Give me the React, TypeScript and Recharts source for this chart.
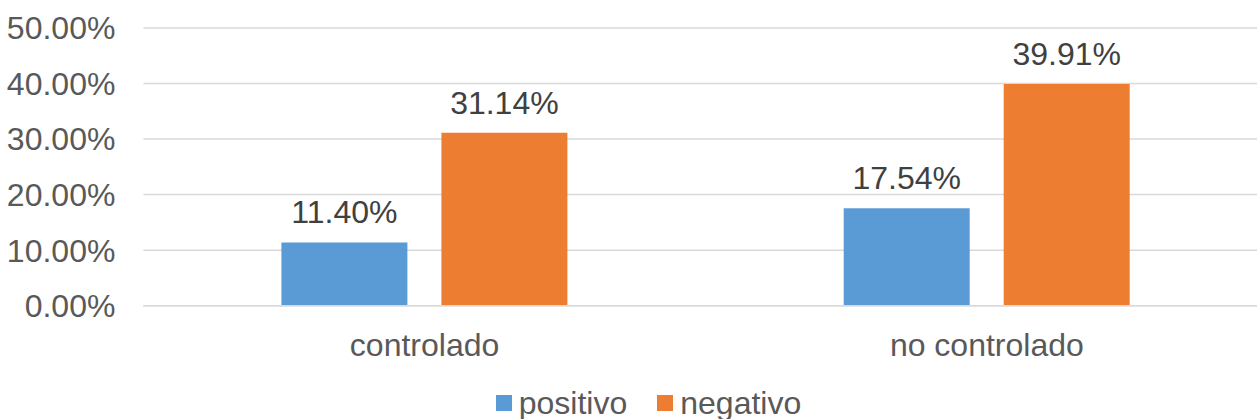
import React from 'react';
import { BarChart, Bar, XAxis, YAxis, CartesianGrid, LabelList, Legend } from 'recharts';

const categories = ['controlado', 'no controlado'];
const positivo = [11.4, 17.54];
const negativo = [31.14, 39.91];
const yTicks = [0, 10, 20, 30, 40, 50];
const seriesNames = ['positivo', 'negativo'];
const seriesColors = ['#5B9BD5', '#ED7D31'];

const data = categories.map((c, i) => ({ name: c, positivo: positivo[i], negativo: negativo[i] }));

const FONT = '"Liberation Sans", Arial, sans-serif';
const FS = 32;

const fmt = (v: number) => `${Number(v).toFixed(2)}%`;

const LegendContent = () => (
  <div style={{ height: 40, display: 'flex', justifyContent: 'center', paddingLeft: 29, boxSizing: 'border-box', fontFamily: FONT }}>
    {seriesNames.map((n, i) => (
      <div key={n} style={{ display: 'flex', alignItems: 'center', marginRight: i === 0 ? 30 : 0, height: 30, marginTop: 9 }}>
        <div style={{ width: 16, height: 16, background: seriesColors[i], marginRight: 7 }} />
        <span style={{ fontSize: FS, color: '#595959', lineHeight: '30px' }}>{n}</span>
      </div>
    ))}
  </div>
);

export default function App() {
  return (
    <div style={{ position: 'fixed', left: 0, top: 0, width: 1257, height: 419, overflow: 'hidden', background: '#fff' }}>
      <BarChart
        width={1268}
        height={419}
        data={data}
        margin={{ top: 28, right: 0, bottom: 0, left: 0 }}
        barSize={126}
        barGap={34}
      >
        <CartesianGrid vertical={false} stroke="#D9D9D9" strokeWidth={1.5} />
        <XAxis
          dataKey="name"
          axisLine={{ stroke: '#D9D9D9', strokeWidth: 1.5 }}
          tickLine={false}
          tickMargin={21.6}
          height={73.3}
          tick={{ fill: '#595959', fontSize: FS, fontFamily: FONT }}
        />
        <YAxis
          domain={[0, 50]}
          ticks={yTicks}
          width={143.4}
          axisLine={false}
          tickLine={false}
          tickMargin={22}
          tickFormatter={fmt}
          tick={{ fill: '#595959', fontSize: FS, fontFamily: FONT }}
        />
        <Legend verticalAlign="bottom" content={<LegendContent />} />
        <Bar dataKey="positivo" fill={seriesColors[0]} isAnimationActive={false}>
          <LabelList dataKey="positivo" position="top" offset={19} formatter={fmt} style={{ fill: '#404040', fontSize: FS, fontFamily: FONT }} />
        </Bar>
        <Bar dataKey="negativo" fill={seriesColors[1]} isAnimationActive={false}>
          <LabelList dataKey="negativo" position="top" offset={19} formatter={fmt} style={{ fill: '#404040', fontSize: FS, fontFamily: FONT }} />
        </Bar>
      </BarChart>
    </div>
  );
}
